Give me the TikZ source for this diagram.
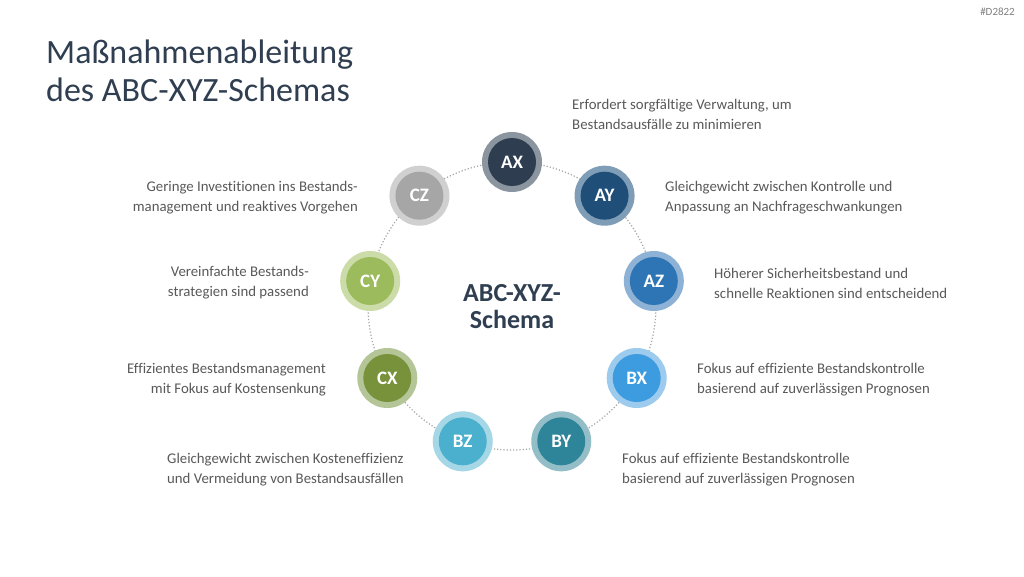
\documentclass[tikz,border=0pt]{standalone}
\usepackage{fontspec}
\setmainfont{Carlito}[Ligatures={NoCommon,NoRare}]
\usetikzlibrary{calc}
\definecolor{titlec}{HTML}{2F3E50}
\definecolor{txt}{HTML}{595959}
\definecolor{ringline}{HTML}{A6A6A6}
\definecolor{cAX}{HTML}{2E3D50}\definecolor{rAX}{HTML}{8A959F}
\definecolor{cAY}{HTML}{1F4E79}\definecolor{rAY}{HTML}{7F9DB6}
\definecolor{cAZ}{HTML}{2E75B6}\definecolor{rAZ}{HTML}{8DB2D5}
\definecolor{cBX}{HTML}{3D9BE0}\definecolor{rBX}{HTML}{9DCBEE}
\definecolor{cBY}{HTML}{2E8599}\definecolor{rBY}{HTML}{93BEC8}
\definecolor{cBZ}{HTML}{4BB0CD}\definecolor{rBZ}{HTML}{A6D7E6}
\definecolor{cCX}{HTML}{77923A}\definecolor{rCX}{HTML}{B4C598}
\definecolor{cCY}{HTML}{9CBB5C}\definecolor{rCY}{HTML}{CBDCA9}
\definecolor{cCZ}{HTML}{A6A6A6}\definecolor{rCZ}{HTML}{D0D0D0}
\tikzset{
  ringnode/.style={circle, minimum size=60pt, inner sep=0pt, fill=#1},
  corenode/.style={circle, minimum size=48pt, inner sep=0pt, fill=#1, text=white,
     font=\fontsize{19}{19}\selectfont\bfseries},
  desc/.style={text=txt, font=\fontsize{14.8}{20}\selectfont, inner sep=0pt},
  descl/.style={desc, anchor=west, align=left},
  descr/.style={desc, anchor=east, align=right},
  link/.style={draw=ringline, line width=1.2pt, dotted}
}
\begin{document}
\begin{tikzpicture}[x=1pt,y=-1pt]
\useasboundingbox (0,0) rectangle (1024,576);
\fill[white] (0,0) rectangle (1024,576);
\node[anchor=north east, text=gray, font=\fontsize{11}{11}\selectfont, inner sep=0pt] (tag) at (1015,8) {\#D2822};
\node[anchor=north west, align=left, text=titlec, font=\fontsize{34}{38}\selectfont, inner sep=0pt] (title) at (46,40) {Maßnahmenableitung\\des ABC-XYZ-Schemas};
\coordinate (ctr) at (512,306);
\draw[link] (ctr) circle[radius=144];
\node[align=center, text=titlec, font=\fontsize{26}{27}\selectfont\bfseries] (center) at (512,307) {ABC-XYZ-\\Schema};
% nodes
\foreach \n/\a in {AX/90, AY/50, AZ/10, BX/-30, BY/-70, BZ/-110, CX/-150, CY/170, CZ/130}{
  \node[ringnode=r\n] (r\n) at ($(ctr)+(\a:144 and -144)$) {};
}
\foreach \n in {AX,AY,AZ,BX,BY,BZ,CX,CY,CZ}{
  \node[corenode=c\n] (\n) at (r\n) {\n};
}
% descriptions
\node[descl] (tAX) at (572,114) {Erfordert sorgfältige Verwaltung, um\\Bestandsausfälle zu minimieren};
\node[descl] (tAY) at (665,198) {Gleichgewicht zwischen Kontrolle und\\Anpassung an Nachfrageschwankungen};
\node[descl] (tAZ) at (714,283) {Höherer Sicherheitsbestand und\\schnelle Reaktionen sind entscheidend};
\node[descl] (tBX) at (697,380) {Fokus auf effiziente Bestandskontrolle\\basierend auf zuverlässigen Prognosen};
\node[descl] (tBY) at (622,470) {Fokus auf effiziente Bestandskontrolle\\basierend auf zuverlässigen Prognosen};
\node[descl] (tBZ) at (167,470) {Gleichgewicht zwischen Kosteneffizienz\\und Vermeidung von Bestandsausfällen};
\node[descr] (tCX) at (326,380) {Effizientes Bestandsmanagement\\mit Fokus auf Kostensenkung};
\node[descr] (tCY) at (309,283) {Vereinfachte Bestands-\\strategien sind passend};
\node[descr] (tCZ) at (358,198) {Geringe Investitionen ins Bestands-\\management und reaktives Vorgehen};
\end{tikzpicture}
\end{document}
